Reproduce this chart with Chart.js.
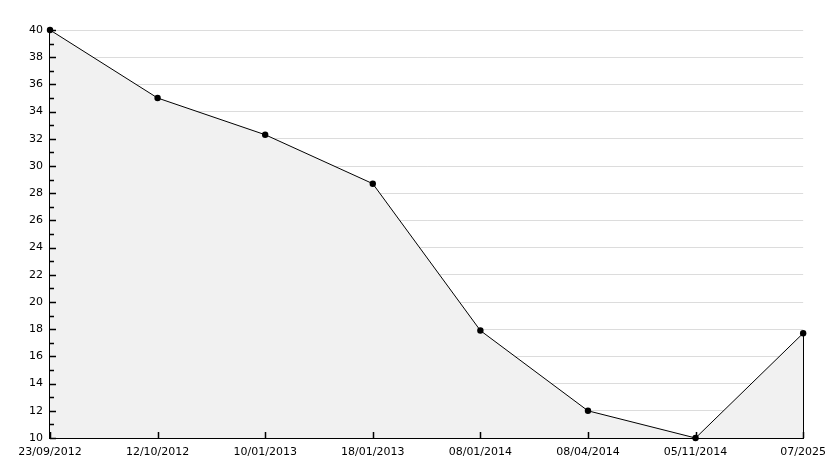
<!DOCTYPE html>
<html>
<head>
<meta charset="utf-8">
<script src="https://cdn.jsdelivr.net/npm/chart.js@4/dist/chart.umd.min.js"></script>
<style>
  html, body { margin: 0; padding: 0; background: #fff; }
  #wrap { width: 834px; height: 468px; }
</style>
</head>
<body>
<div id="wrap"><canvas id="chartCanvas" width="834" height="468"></canvas></div>
<script>
const dateLabels = ['23/09/2012', '12/10/2012', '10/01/2013', '18/01/2013', '08/01/2014', '08/04/2014', '05/11/2014', '07/2025'];
const values = [40, 35, 32.3, 28.7, 17.9, 12, 10, 17.7];
const yMin = 10;
const yMax = 40;

// ticks are drawn inside the plot, with minor ticks on odd values
const insideTicks = {
  id: 'insideTicks',
  afterDatasetsDraw(chart) {
    const ctx = chart.ctx;
    const area = chart.chartArea;
    const xs = chart.scales.x;
    const ys = chart.scales.y;
    ctx.save();
    ctx.strokeStyle = '#000';
    ctx.lineWidth = 1.5;
    ctx.beginPath();
    for (let v = yMin; v <= yMax; v++) {
      const py = Math.round(ys.getPixelForValue(v)) + 0.5;
      const len = v % 2 === 0 ? 6 : 4;
      ctx.moveTo(area.left, py);
      ctx.lineTo(area.left + len, py);
    }
    for (let i = 0; i < dateLabels.length; i++) {
      const px = Math.round(xs.getPixelForValue(i)) + 0.5;
      ctx.moveTo(px, area.bottom);
      ctx.lineTo(px, area.bottom - 6);
    }
    ctx.stroke();

    // closing edge of the filled area on the right
    const meta = chart.getDatasetMeta(0);
    const last = meta.data[meta.data.length - 1];
    ctx.lineWidth = 1;
    ctx.beginPath();
    ctx.moveTo(Math.round(last.x) + 0.5, last.y);
    ctx.lineTo(Math.round(last.x) + 0.5, area.bottom);
    ctx.stroke();
    ctx.restore();
  }
};

const ctx = document.getElementById('chartCanvas').getContext('2d');

new Chart(ctx, {
  type: 'line',
  data: {
    labels: dateLabels,
    datasets: [{
      data: values,
      fill: 'start',
      clip: false,
      backgroundColor: '#f1f1f1',
      borderColor: '#000',
      borderWidth: 1,
      tension: 0,
      pointStyle: 'circle',
      pointRadius: 3.2,
      pointBackgroundColor: '#000',
      pointBorderColor: '#000',
      pointBorderWidth: 0
    }]
  },
  options: {
    responsive: false,
    animation: false,
    layout: {
      padding: { top: 30, right: 29, left: 0, bottom: 0 }
    },
    plugins: {
      legend: { display: false },
      tooltip: { enabled: false }
    },
    scales: {
      x: {
        grid: { display: false, drawTicks: false },
        border: { display: true, color: '#000', width: 2 },
        ticks: {
          autoSkip: false,
          maxRotation: 0,
          padding: 8,
          color: '#000',
          font: { family: 'DejaVu Sans', size: 11 }
        },
        afterFit(scale) { scale.height = 30; }
      },
      y: {
        min: yMin,
        max: yMax,
        grid: { color: '#dcdcdc', drawTicks: false },
        border: { display: true, color: '#000', width: 2 },
        ticks: {
          stepSize: 2,
          padding: 7,
          color: '#000',
          font: { family: 'DejaVu Sans', size: 11 }
        },
        afterFit(scale) { scale.width = 50; }
      }
    }
  },
  plugins: [insideTicks]
});
</script>
</body>
</html>
